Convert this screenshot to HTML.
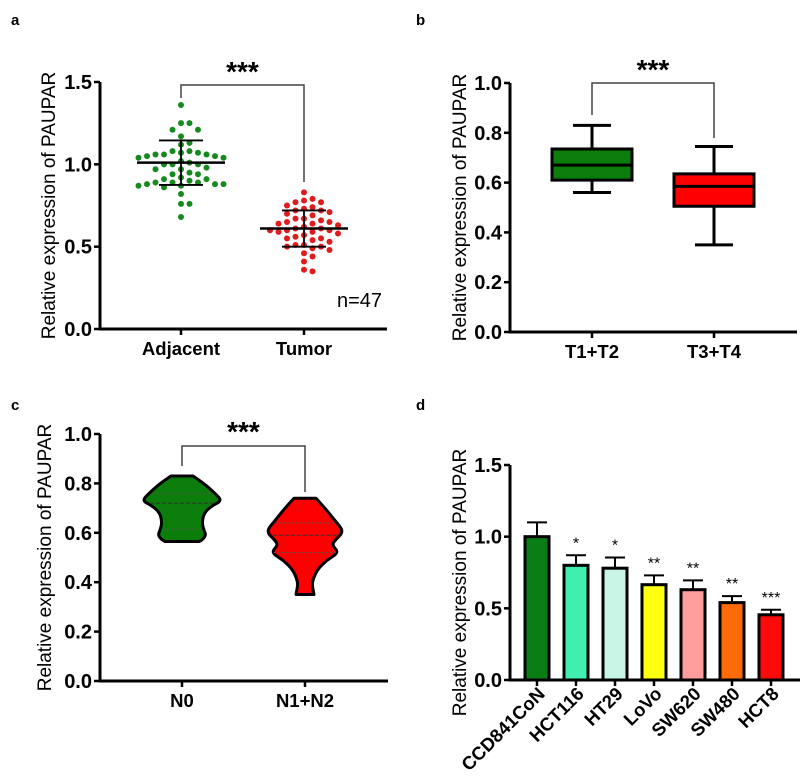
<!DOCTYPE html>
<html><head><meta charset="utf-8">
<style>
html,body{margin:0;padding:0;background:#fff;}
svg{display:block;font-family:"Liberation Sans",Arial,sans-serif;}
.tk{font-size:20px;font-weight:bold;fill:#000;}
.tkx{font-size:18.5px;font-weight:bold;fill:#000;}
.tt{font-size:19px;fill:#000;}
.pl{font-size:15px;font-weight:bold;fill:#000;}
</style></head>
<body>
<svg id="fig" width="800" height="776" viewBox="0 0 800 776"></svg>
<script>
// ---------- data ----------
const aGroups = ["Adjacent","Tumor"];
const aAdjacent = [1.36,1.25,1.25,1.21,1.21,1.17,1.13,1.12,1.08,1.08,1.07,1.07,1.06,1.06,1.06,1.05,1.05,1.04,1.04,1.02,1.01,1.00,1.00,1.00,0.98,0.97,0.97,0.95,0.94,0.94,0.92,0.91,0.91,0.90,0.89,0.89,0.89,0.88,0.88,0.88,0.87,0.87,0.86,0.82,0.76,0.76,0.68];
const aTumor = [0.83,0.79,0.78,0.77,0.77,0.75,0.74,0.73,0.72,0.72,0.71,0.70,0.69,0.67,0.67,0.66,0.65,0.65,0.64,0.64,0.63,0.62,0.61,0.61,0.60,0.60,0.60,0.59,0.59,0.58,0.57,0.56,0.55,0.55,0.54,0.53,0.51,0.51,0.50,0.50,0.49,0.48,0.46,0.44,0.41,0.36,0.35];
const aMean = [1.01,0.61];
const aSD = [0.135,0.11];
const aTicks = ["0.0","0.5","1.0","1.5"];

const bGroups = ["T1+T2","T3+T4"];
const bMin = [0.56,0.35];
const bQ1 = [0.61,0.505];
const bMed = [0.67,0.585];
const bQ3 = [0.735,0.635];
const bMax = [0.83,0.745];
const bTicks = ["0.0","0.2","0.4","0.6","0.8","1.0"];

const cGroups = ["N0","N1+N2"];
const cN0Vals = [0.83,0.80,0.76,0.73,0.71,0.68,0.64,0.61,0.59,0.57,0.565];
const cN0Dens = [11,22,33,40,30,22,20,22,24,20,17];
const cN12Vals = [0.74,0.70,0.65,0.605,0.57,0.55,0.52,0.49,0.45,0.40,0.37,0.35];
const cN12Dens = [11,20,30,39,30,27,34,22,12,7,8,9];
const cMedian = [0.72,0.59];
const cQuart = [[0.615,0.76],[0.52,0.64]];
const cTicks = ["0.0","0.2","0.4","0.6","0.8","1.0"];

const dLines = ["CCD841CoN","HCT116","HT29","LoVo","SW620","SW480","HCT8"];
const dValues = [1.00,0.80,0.78,0.665,0.63,0.54,0.455];
const dErr = [0.10,0.07,0.075,0.065,0.065,0.045,0.035];
const dSig = ["","*","*","**","**","**","***"];
const dColors = ["#0a7d14","#40efb0","#c8f5e6","#ffff10","#ff9c9c","#ff6a08","#ff0a0a"];
const dTicks = ["0.0","0.5","1.0","1.5"];

// ---------- helpers ----------
const svg = document.getElementById('fig');
const NS = "http://www.w3.org/2000/svg";
function el(tag, attrs, parent){
  const e = document.createElementNS(NS, tag);
  for (const k in attrs) e.setAttribute(k, attrs[k]);
  (parent||svg).appendChild(e);
  return e;
}
function txt(str, attrs, parent){ const t = el('text', attrs, parent); t.textContent = str; return t; }

function axes(g, x0, xEnd, y0, yTop, ticks, vmax, xs, cats, rotate, title, titleX){
  const ys = v => y0 - (v / vmax) * (y0 - yTop);
  const ya = el('line',{x1:x0,y1:y0+1,x2:x0,y2:yTop,stroke:"#000","stroke-width":3},g);
   
  const xa = el('line',{x1:x0-1.5,y1:y0,x2:xEnd,y2:y0,stroke:"#000","stroke-width":3},g);
   
  ticks.forEach(t=>{
    const y = ys(parseFloat(t));
    el('line',{x1:x0-6,y1:y,x2:x0,y2:y,stroke:"#000","stroke-width":2.5},g);
    const tl = txt(t,{x:x0-8,y:y+7,"text-anchor":"end",class:"tk"},g);
     
  });
  cats.forEach((c,i)=>{
    el('line',{x1:xs(i),y1:y0,x2:xs(i),y2:y0+6,stroke:"#000","stroke-width":2.5},g);
    let tl;
    if (rotate){
      tl = txt(c,{x:xs(i)+9,y:y0+15,"text-anchor":"end",class:"tkx",transform:`rotate(-45 ${xs(i)+9} ${y0+15})`},g);
    } else {
      tl = txt(c,{x:xs(i),y:y0+26,"text-anchor":"middle",class:"tkx"},g);
    }
     
  });
  const cy = (y0+yTop)/2 + (rotate?10:0);
  const at = txt(title,{x:titleX,y:cy,"text-anchor":"middle",class:"tt",transform:`rotate(-90 ${titleX} ${cy})`},g);
   
  return ys;
}
function bracket(g, xa, ya, xb, yb, yTop, starY){
  const p = el('polyline',{points:`${xa},${ya} ${xa},${yTop} ${xb},${yTop} ${xb},${yb}`,fill:"none",stroke:"#444","stroke-width":1.5},g);
   
  const s = txt("***",{x:(xa+xb)/2,y:starY,"text-anchor":"middle","font-size":"28px","font-weight":"bold",fill:"#000"},g);
   
}
function label(g, s, x, y){
  const l = txt(s,{x:x,y:y,class:"pl"},g);
   
}
const TITLE = "Relative expression of PAUPAR";

// ---------- panel a ----------
(function(){
  const g = el('g',{});  
  label(g,"a",11,25);
  const cx = [181,304];
  const xs = i => cx[i];
  const ys = axes(g,100,387,329,82,aTicks,1.5,xs,aGroups,false,TITLE,55);
  const cols = ["#178a1e","#e01b1b"];
  [aAdjacent,aTumor].forEach((vals,gi)=>{
    const placed = [];
    const r = 3, d = 2*r+2.5;
    vals.slice().sort((a,b)=>b-a).forEach(v=>{
      const y = ys(v);
      let off = 0, k = 0;
      while (true){
        const cand = (k===0)?0:((k%2)?1:-1)*Math.ceil(k/2)*d;
        if (placed.every(p=>Math.hypot(p[0]-cand,p[1]-y)>=d-0.5)){ off=cand; break; }
        k++;
        if (k>40){off=cand;break;}
      }
      placed.push([off,y]);
      const c = el('circle',{cx:xs(gi)+off,cy:y,r:r,fill:cols[gi]},g);
       
    });
    const m = ys(aMean[gi]), hi = ys(aMean[gi]+aSD[gi]), lo = ys(aMean[gi]-aSD[gi]);
    el('line',{x1:xs(gi)-44,y1:m,x2:xs(gi)+44,y2:m,stroke:"#000","stroke-width":2.5},g);
    el('line',{x1:xs(gi),y1:hi,x2:xs(gi),y2:lo,stroke:"#000","stroke-width":1.8},g);
    el('line',{x1:xs(gi)-22,y1:hi,x2:xs(gi)+22,y2:hi,stroke:"#000","stroke-width":1.8},g);
    el('line',{x1:xs(gi)-22,y1:lo,x2:xs(gi)+22,y2:lo,stroke:"#000","stroke-width":1.8},g);
  });
  bracket(g,181,98,304,182,85,81);
  const n = txt("n=47",{x:337,y:307,"font-size":"20px",fill:"#000"},g);
   
})();

// ---------- panel b ----------
(function(){
  const g = el('g',{});  
  label(g,"b",416,25);
  const cx = [592,714];
  const xs = i => cx[i];
  const ys = axes(g,510,797,332,83,bTicks,1.0,xs,bGroups,false,TITLE,466);
  const cols = ["#0b7d0b","#ff0000"];
  bGroups.forEach((_,i)=>{
    const x = xs(i), w = 40;
    el('line',{x1:x,y1:ys(bMax[i]),x2:x,y2:ys(bMin[i]),stroke:"#000","stroke-width":3},g);
    el('line',{x1:x-19,y1:ys(bMax[i]),x2:x+19,y2:ys(bMax[i]),stroke:"#000","stroke-width":3},g);
    el('line',{x1:x-19,y1:ys(bMin[i]),x2:x+19,y2:ys(bMin[i]),stroke:"#000","stroke-width":3},g);
    const b = el('rect',{x:x-w,y:ys(bQ3[i]),width:2*w,height:ys(bQ1[i])-ys(bQ3[i]),fill:cols[i],stroke:"#000","stroke-width":3},g);
     
    el('line',{x1:x-w,y1:ys(bMed[i]),x2:x+w,y2:ys(bMed[i]),stroke:"#000","stroke-width":3},g);
  });
  bracket(g,592,115,714,138,83,79);
})();

// ---------- panel c ----------
(function(){
  const g = el('g',{});  
  label(g,"c",11,410);
  const cx = [182,305];
  const xs = i => cx[i];
  const ys = axes(g,100,388,681,434,cTicks,1.0,xs,cGroups,false,TITLE,51);
  const cols = ["#0b7d0b","#ff0000"];
  [[cN0Vals,cN0Dens],[cN12Vals,cN12Dens]].forEach((vd,i)=>{
    const [vals,dens] = vd, x = xs(i);
    const right = vals.map((v,k)=>[x+dens[k],ys(v)]);
    const left = vals.map((v,k)=>[x-dens[k],ys(v)]).reverse();
    let dstr = `M${x-dens[0]},${ys(vals[0])} L${right[0][0]},${right[0][1]}`;
    for (let k=1;k<right.length-1;k++){
      const mx=(right[k][0]+right[k+1][0])/2, my=(right[k][1]+right[k+1][1])/2;
      dstr += ` Q${right[k][0]},${right[k][1]} ${mx},${my}`;
    }
    dstr += ` L${right[right.length-1][0]},${right[right.length-1][1]} L${left[0][0]},${left[0][1]}`;
    for (let k=1;k<left.length-1;k++){
      const mx=(left[k][0]+left[k+1][0])/2, my=(left[k][1]+left[k+1][1])/2;
      dstr += ` Q${left[k][0]},${left[k][1]} ${mx},${my}`;
    }
    dstr += " Z";
    const p = el('path',{d:dstr,fill:cols[i],stroke:"#000","stroke-width":3,"stroke-linejoin":"round"},g);
     
    const hw = v => { for(let k=0;k<vals.length-1;k++){ if(v<=vals[k]&&v>=vals[k+1]){ const t=(vals[k]-v)/(vals[k]-vals[k+1]); return dens[k]+(dens[k+1]-dens[k])*t; } } return 10; };
    [cMedian[i]].concat(cQuart[i]).forEach((v,j)=>{
      const w = hw(v)-3;
      const l = el('line',{x1:x-w,y1:ys(v),x2:x+w,y2:ys(v),stroke:j===0?"#333":"#555","stroke-width":1,"stroke-dasharray":j===0?"4,2":"2,2"},g);
       
    });
  });
  bracket(g,182,466,305,492,446,441);
})();

// ---------- panel d ----------
(function(){
  const g = el('g',{});  
  label(g,"d",416,410);
  const step = 39, first = 537;
  const xs = i => first + i*step;
  const ys = axes(g,510,800,680,465,dTicks,1.5,xs,dLines,true,TITLE,466);
  dValues.forEach((v,i)=>{
    const x = xs(i), w = 24, top = ys(v+dErr[i]);
    el('line',{x1:x,y1:ys(v),x2:x,y2:top,stroke:"#000","stroke-width":2},g);
    el('line',{x1:x-10,y1:top,x2:x+10,y2:top,stroke:"#000","stroke-width":2},g);
    const b = el('rect',{x:x-w/2,y:ys(v),width:w,height:ys(0)-ys(v),fill:dColors[i],stroke:"#000","stroke-width":3},g);
     
    if (dSig[i]){
      const s = txt(dSig[i],{x:x,y:top-7,"text-anchor":"middle","font-size":"16px",fill:"#000"},g);
       
    }
  });
})();
</script>
</body></html>
